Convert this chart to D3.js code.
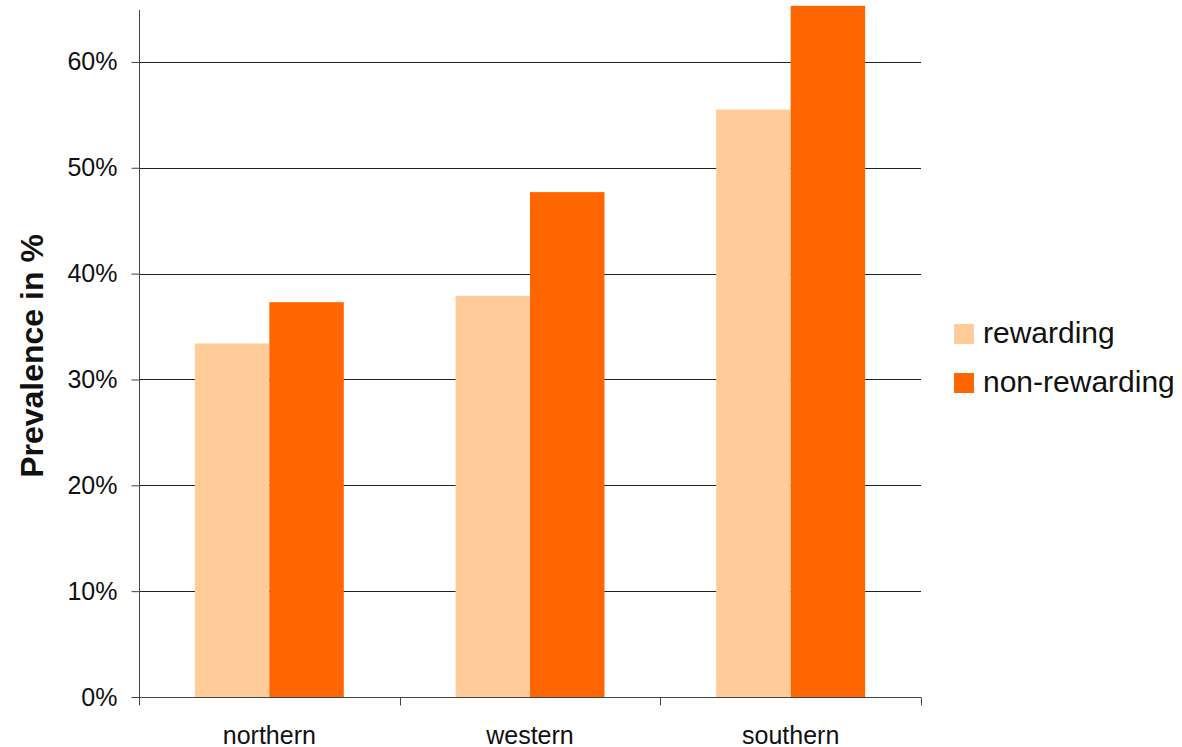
<!DOCTYPE html>
<html>
<head>
<meta charset="utf-8">
<script src="https://cdn.jsdelivr.net/npm/d3@7"></script>
<style>
html, body { margin: 0; padding: 0; background: #fff; }
svg { display: block; font-family: "Liberation Sans", Arial, sans-serif; }
</style>
</head>
<body>
<svg id="chart" width="1182" height="747"></svg>
<script>
const categories = ["northern", "western", "southern"];
const seriesNames = ["rewarding", "non-rewarding"];
const rewarding = [33.4, 37.9, 55.5];
const nonRewarding = [37.3, 47.7, 65.3];
const yTicks = [0, 10, 20, 30, 40, 50, 60];
const colors = ["#FFCC99", "#FF6600"];
const yTitle = "Prevalence in %";

const svg = d3.select("#chart");
const plotLeft = 139, plotRight = 921, plotTop = 9, plotBottom = 697;

const x = d3.scaleBand().domain(categories).range([plotLeft, plotRight]).paddingInner(0).paddingOuter(0);
const y = d3.scaleLinear().domain([0, 65]).range([plotBottom, plotTop]);
const series = [rewarding, nonRewarding];
const barW = x.bandwidth() / 3.5;
const x1 = d3.scaleBand().domain(seriesNames).range([0, barW * 2]);

// gridlines
svg.append("g").selectAll("line").data(yTicks.filter(d => d > 0)).join("line")
  .attr("x1", plotLeft).attr("x2", plotRight)
  .attr("y1", d => Math.round(y(d)) + 0.5).attr("y2", d => Math.round(y(d)) + 0.5)
  .attr("stroke", "#222").attr("stroke-width", 1);

// bars
const g = svg.append("g");
seriesNames.forEach((s, si) => {
  g.selectAll(".b" + si).data(categories).join("rect")
    .attr("class", "b" + si)
    .attr("x", c => x(c) + (x.bandwidth() - barW * 2) / 2 + x1(s))
    .attr("width", x1.bandwidth())
    .attr("y", (c, i) => y(series[si][i]))
    .attr("height", (c, i) => plotBottom - y(series[si][i]))
    .attr("fill", colors[si]);
});

// y axis
const yAxis = d3.axisLeft(y).tickValues(yTicks).tickFormat(d => d + "%").tickSize(8).tickPadding(14);
const ya = svg.append("g").attr("transform", `translate(${plotLeft + 0.5},0)`).call(yAxis);
ya.select(".domain").attr("d", `M0,${plotBottom}V10`).attr("stroke", "#444");
ya.selectAll(".tick line").attr("stroke", "#444");
ya.selectAll(".tick text").attr("font-size", 25).attr("fill", "#111")
  .attr("font-family", "'Liberation Sans', Arial, sans-serif");

// x axis
const xa = svg.append("g").attr("transform", `translate(0,${plotBottom + 0.5})`);
xa.append("line").attr("x1", plotLeft).attr("x2", plotRight).attr("y1", 0).attr("y2", 0).attr("stroke", "#444");
const bounds = categories.map(c => x(c)).concat([plotRight]);
xa.selectAll(".xt").data(bounds).join("line")
  .attr("class", "xt")
  .attr("x1", d => Math.round(d) + 0.5).attr("x2", d => Math.round(d) + 0.5)
  .attr("y1", 0).attr("y2", 8).attr("stroke", "#444");
xa.selectAll(".xl").data(categories).join("text")
  .attr("class", "xl")
  .attr("x", c => x(c) + x.bandwidth() / 2)
  .attr("y", 46)
  .attr("text-anchor", "middle")
  .attr("font-size", 25).attr("fill", "#111")
  .text(c => c);

// y title
svg.append("text")
  .attr("transform", "translate(43,356) rotate(-90)")
  .attr("text-anchor", "middle")
  .attr("font-size", 32).attr("font-weight", "bold").attr("fill", "#111")
  .text(yTitle);

// legend
const lg = svg.append("g").attr("transform", "translate(954,324)");
seriesNames.forEach((s, i) => {
  lg.append("rect").attr("x", 0).attr("y", i * 49).attr("width", 20).attr("height", 20).attr("fill", colors[i]);
  lg.append("text").attr("x", 29).attr("y", i * 49 + 19).attr("font-size", 30).attr("fill", "#111").text(s);
});
</script>
</body>
</html>
